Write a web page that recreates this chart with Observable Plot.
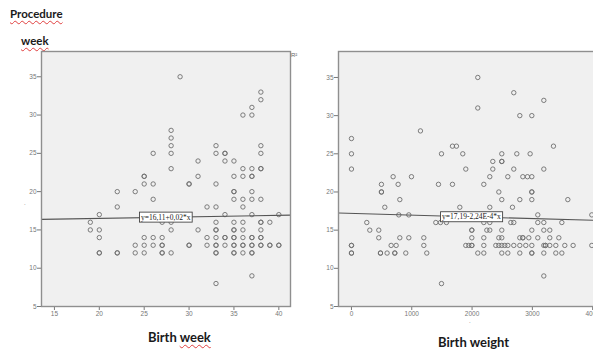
<!DOCTYPE html>
<html><head><meta charset="utf-8">
<script src="https://cdn.jsdelivr.net/npm/d3@7"></script>
<script src="https://cdn.jsdelivr.net/npm/@observablehq/plot@0.6"></script>
<style>
body{margin:0;background:#fff;}
#wrap{position:relative;width:593px;height:349px;overflow:hidden;font-family:Lato,"Open Sans",sans-serif;}
.t{position:absolute;white-space:nowrap;font-weight:bold;color:#1a1a1a;line-height:1;}
.sq{text-decoration:underline wavy #e04040;text-decoration-thickness:1px;text-underline-offset:2px;}
.p{position:absolute;width:300px;height:280px;}
.m{position:absolute;font-family:"Liberation Sans",sans-serif;font-size:6px;color:#666;line-height:1;}
</style></head><body>
<div id="wrap">
  <div class="t" style="left:10px;top:8px;font-size:11.5px"><span class="sq">Procedure</span></div>
  <div class="t" style="left:21px;top:35px;font-size:11.5px"><span class="sq">week</span></div>
  <div class="t" style="left:148px;top:331px;font-size:13px">Birth <span class="sq">week</span></div>
  <div class="t" style="left:438px;top:336px;font-size:13px">Birth <span class="sq">weight</span></div>
  <div class="m" style="left:291px;top:52px">R²</div>
  <div class="m" style="left:24px;top:200px">.</div>
  <div class="m" style="left:469px;top:318px">.</div>
  <div id="left" class="p" style="left:0px;top:40px"></div>
  <div id="right" class="p" style="left:300px;top:40px"></div>
</div>
<script>
// ---- data ----
const valueTicks = [5, 10, 15, 20, 25, 30, 35];
const weekTicks = [15, 20, 25, 30, 35, 40];
const weightTicks = [0, 1000, 2000, 3000, 4000];

// [birth week, procedure week]
const weekPoints = [
  [29,35],[38,33],[38,32],[37,31],[36,30],[37,30],[28,28],[28,27],
  [28,26],[33,26],[38,26],
  [26,25],[28,25],[33,25],[34,25],[34,25],[38,25],
  [31,24],[34,24],[35,24],
  [28,23],[36,23],[37,23],[38,23],[38,23],
  [25,22],[25,22],[31,22],[35,22],[36,22],[37,22],[37,22],
  [25,21],[26,21],[30,21],[30,21],[33,21],
  [22,20],[24,20],[35,20],[35,20],[37,20],
  [26,19],[35,19],[36,19],[37,19],[38,19],
  [22,18],[32,18],[33,18],[36,18],
  [20,17],[34,17],[37,17],[40,17],
  [19,16],[27,16],[28,16],[33,16],[35,16],[36,16],[38,16],[38,16],[39,16],
  [19,15],[20,15],[28,15],[31,15],[33,15],[33,15],[35,15],[35,15],[36,15],[38,15],
  [20,14],[25,14],[26,14],[27,14],[32,14],[33,14],[34,14],[34,14],[35,14],[35,14],[36,14],[37,14],[37,14],[38,14],[38,14],
  [24,13],[25,13],[26,13],[27,13],[27,13],[30,13],[30,13],[32,13],[33,13],[33,13],[34,13],[35,13],[35,13],[36,13],[36,13],[37,13],[37,13],[38,13],[38,13],[39,13],[39,13],[40,13],[40,13],
  [20,12],[20,12],[22,12],[22,12],[24,12],[25,12],[27,12],[27,12],[28,12],[33,12],[33,12],[35,12],[35,12],[36,12],[37,12],[37,12],
  [37,9],[33,8]
];

// [birth weight, procedure week]
const weightPoints = [
  [2095,35],[2692,33],[3190,32],[2095,31],[2792,30],[2991,30],[1144,28],[0,27],
  [1675,26],[1741,26],[3350,26],
  [0,25],[1493,25],[1846,25],[2493,25],[2742,25],[2963,25],
  [2344,24],[2493,24],[2493,24],
  [0,23],[1896,23],[2344,23],[2692,23],[3190,23],
  [691,22],[995,22],[2294,22],[2593,22],[2842,22],[2919,22],[2991,22],
  [497,21],[774,21],[1443,21],[1675,21],[2195,21],
  [497,20],[497,20],[2444,20],[2991,20],[2991,20],
  [802,19],[2493,19],[2792,19],[2991,19],[3588,19],
  [553,18],[1797,18],[2294,18],[2670,18],
  [785,17],[951,17],[3090,17],[3986,17],
  [254,16],[1399,16],[1476,16],[1575,16],[2195,16],[2294,16],[2643,16],[2692,16],[3090,16],[3190,16],[3489,16],
  [304,15],[453,15],[1996,15],[1996,15],[2245,15],[2294,15],[2493,15],[2991,15],[3190,15],[3289,15],
  [453,14],[802,14],[951,14],[1200,14],[1996,14],[2195,14],[2444,14],[2493,14],[2792,14],[2842,14],[2842,14],[2941,14],[3090,14],[3289,14],[3439,14],
  [0,13],[0,13],[658,13],[741,13],[1200,13],[1896,13],[1946,13],[1996,13],[1996,13],[2195,13],[2394,13],[2444,13],[2493,13],[2543,13],[2593,13],[2692,13],[2792,13],[2891,13],[2991,13],[3190,13],[3218,13],[3218,13],[3289,13],[3389,13],[3538,13],[3676,13],[3986,13],
  [0,12],[0,12],[481,12],[481,12],[591,12],[719,12],[719,12],[901,12],[1249,12],[2095,12],[2195,12],[2493,12],[2593,12],[2792,12],[2991,12],[2991,12],[3190,12],[3389,12],[3489,12],
  [3190,9],[1493,8]
];

// fit lines as printed on the chart: y = a + b*x
const weekFit = {a: 16.11, b: 0.02, label: "y=16,11+0,02*x", at: 27.4};
const weightFit = {a: 17.19, b: -2.24e-4, label: "y=17,19-2,24E-4*x", at: 1990};

// ---- drawing ----
function panel({points, fit, xDomain, yDomain, xTicks, width, marginLeft, marginRight}) {
  const line = xDomain.map(x => ({x, y: fit.a + fit.b * x}));
  const lab = [{x: fit.at, y: fit.a + fit.b * fit.at, t: fit.label}];
  return Plot.plot({
    width, height: 280,
    marginLeft, marginRight, marginTop: 11, marginBottom: 14,
    style: {background: "transparent", fontFamily: "Liberation Sans, sans-serif", fontSize: "6.5px", color: "#777", overflow: "visible", maxWidth: "none"},
    x: {domain: xDomain, ticks: xTicks, tickSize: 4, tickPadding: 1, label: null, tickFormat: d => String(d)},
    y: {domain: yDomain, ticks: valueTicks, tickSize: 4, tickPadding: 1, label: null, tickFormat: d => String(d)},
    marks: [
      Plot.frame({fill: "#f0f0f0", stroke: "none"}),
      Plot.dot(points, {x: d => d[0], y: d => d[1], r: 2.2, stroke: "#6e6e6e", strokeWidth: 0.9, fill: "none"}),
      Plot.line(line, {x: "x", y: "y", stroke: "#555", strokeWidth: 1.1}),
      Plot.text(lab, {x: "x", y: "y", text: "t", fontSize: 7.5, fontFamily: "Liberation Serif, serif", fill: "#222"}),
      Plot.frame({stroke: "#8f8f8f", strokeWidth: 1.4})
    ]
  });
}

function boxLabel(svg, label) {
  svg.querySelectorAll("text").forEach(t => {
    if (t.textContent !== label) return;
    const b = t.getBBox();
    const r = document.createElementNS("http://www.w3.org/2000/svg", "rect");
    r.setAttribute("x", b.x - 1.5);
    r.setAttribute("y", b.y - 0.5);
    r.setAttribute("width", b.width + 3);
    r.setAttribute("height", b.height + 1);
    r.setAttribute("fill", "#fff");
    r.setAttribute("stroke", "#444");
    r.setAttribute("stroke-width", "0.9");
    if (t.getAttribute("transform")) r.setAttribute("transform", t.getAttribute("transform"));
    t.parentNode.insertBefore(r, t);
  });
}

const L = panel({points: weekPoints, fit: weekFit, xDomain: [13.56, 41.3], yDomain: [5, 38.3], xTicks: weekTicks, width: 300, marginLeft: 41, marginRight: 10});
document.getElementById("left").append(L);
boxLabel(L, weekFit.label);

const R = panel({points: weightPoints, fit: weightFit, xDomain: [-215, 4130], yDomain: [5, 38.4], xTicks: weightTicks, width: 300, marginLeft: 38, marginRight: 0});
document.getElementById("right").append(R);
boxLabel(R, weightFit.label);
</script>
</body></html>
